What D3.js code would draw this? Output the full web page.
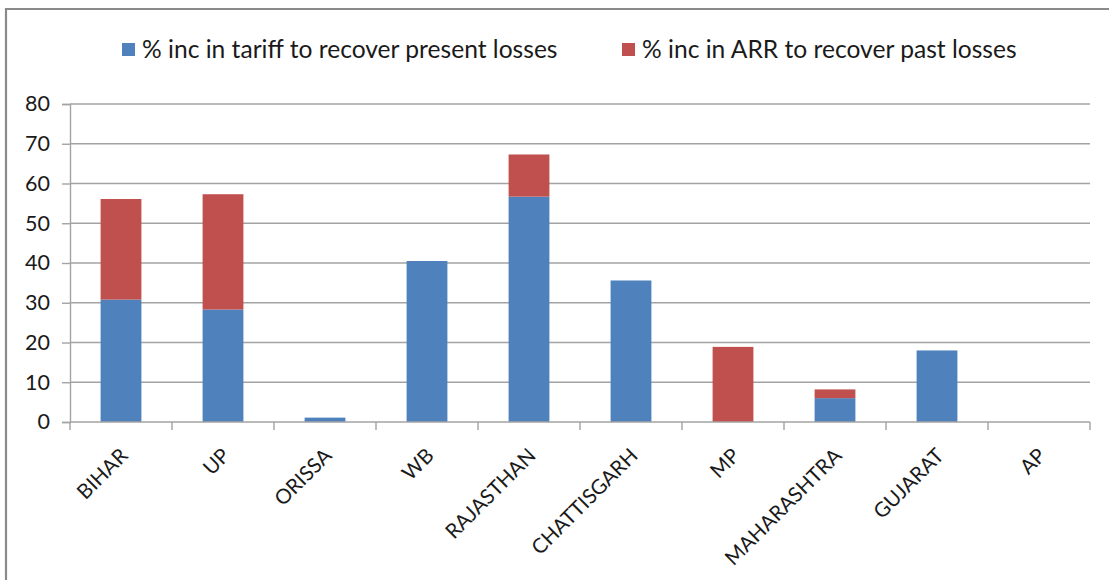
<!DOCTYPE html>
<html>
<head>
<meta charset="utf-8">
<script src="https://cdn.jsdelivr.net/npm/d3@7"></script>
<style>
  html, body { margin: 0; padding: 0; background: #fff; }
  svg { display: block; }
</style>
</head>
<body>
<svg id="chart" width="1109" height="580"></svg>
<script>
// States and the two stacked components (% increase needed)
const states = ["BIHAR", "UP", "ORISSA", "WB", "RAJASTHAN", "CHATTISGARH", "MP", "MAHARASHTRA", "GUJARAT", "AP"];
const presentLosses = [30.8, 28.3, 1.1, 40.5, 56.7, 35.6, 0, 6.0, 18.0, 0];
const pastLosses    = [25.3, 29.0, 0, 0, 10.6, 0, 18.9, 2.2, 0, 0];
const seriesNames = ["% inc in tariff to recover present losses", "% inc in ARR to recover past losses"];
const seriesColors = ["#4F81BD", "#C0504D"];
const yTicks = [0, 10, 20, 30, 40, 50, 60, 70, 80];

const svg = d3.select("#chart");
const font = "Lato, 'Open Sans', sans-serif";

// Chart frame (left and top edges)
svg.append("path")
  .attr("d", "M6,580 V9 H1109")
  .attr("fill", "none")
  .attr("stroke", "#8a8a8a")
  .attr("stroke-width", 2.2);

const plot = { left: 70, right: 1090, top: 104, bottom: 422 };

const x = d3.scaleBand().domain(states).range([plot.left, plot.right]).padding(0);
const y = d3.scaleLinear().domain([0, 80]).range([plot.bottom, plot.top]);

// Horizontal gridlines
svg.append("g")
  .selectAll("line")
  .data(yTicks.filter(t => t > 0))
  .join("line")
  .attr("x1", plot.left).attr("x2", plot.right)
  .attr("y1", d => y(d)).attr("y2", d => y(d))
  .attr("stroke", "#a3a3a3").attr("stroke-width", 1.4);

// Stacked bars
const rows = states.map((s, i) => ({ state: s, present: presentLosses[i], past: pastLosses[i] }));
const stack = d3.stack().keys(["present", "past"])(rows);
const barW = x.bandwidth() * 0.4;

svg.append("g")
  .selectAll("g")
  .data(stack)
  .join("g")
  .attr("fill", (d, i) => seriesColors[i])
  .selectAll("rect")
  .data(d => d)
  .join("rect")
  .attr("x", d => x(d.data.state) + (x.bandwidth() - barW) / 2)
  .attr("width", barW)
  .attr("y", d => y(d[1]))
  .attr("height", d => y(d[0]) - y(d[1]));

// Y axis
const yAxis = svg.append("g")
  .attr("transform", `translate(${plot.left},0)`)
  .call(d3.axisLeft(y).tickValues(yTicks).tickSize(8).tickPadding(12).tickFormat(d3.format("d")));
yAxis.select(".domain").attr("stroke", "#a3a3a3").attr("stroke-width", 1.4);
yAxis.selectAll(".tick line").attr("stroke", "#a3a3a3").attr("stroke-width", 1.4);
yAxis.selectAll(".tick text")
  .attr("fill", "#1a1a1a").style("font-family", font).style("font-size", "21.5px");

// X axis line with ticks at category boundaries
const xg = svg.append("g");
xg.append("line")
  .attr("x1", plot.left).attr("x2", plot.right)
  .attr("y1", plot.bottom).attr("y2", plot.bottom)
  .attr("stroke", "#a3a3a3").attr("stroke-width", 1.4);
const bounds = states.map(s => x(s)).concat([x(states[states.length - 1]) + x.bandwidth()]);
xg.selectAll("line.tk")
  .data(bounds)
  .join("line")
  .attr("class", "tk")
  .attr("x1", d => d).attr("x2", d => d)
  .attr("y1", plot.bottom).attr("y2", plot.bottom + 8)
  .attr("stroke", "#a3a3a3").attr("stroke-width", 1.4);

// Rotated category labels
xg.selectAll("text")
  .data(states)
  .join("text")
  .attr("transform", d => `translate(${x(d) + x.bandwidth() / 2 + 8},${plot.bottom + 35}) rotate(-45)`)
  .attr("text-anchor", "end")
  .attr("fill", "#1a1a1a")
  .style("font-family", font)
  .style("font-size", "20.5px")
  .text(d => d);

// Legend
const legendItems = [
  { name: seriesNames[0], color: seriesColors[0], x: 122 },
  { name: seriesNames[1], color: seriesColors[1], x: 622 }
];
const lg = svg.append("g");
lg.selectAll("rect")
  .data(legendItems)
  .join("rect")
  .attr("x", d => d.x).attr("y", 43)
  .attr("width", 13).attr("height", 13)
  .attr("fill", d => d.color);
lg.selectAll("text")
  .data(legendItems)
  .join("text")
  .attr("x", d => d.x + 20).attr("y", 58)
  .attr("fill", "#1a1a1a")
  .style("font-family", font)
  .style("font-size", "24.6px")
  .text(d => d.name);
</script>
</body>
</html>
